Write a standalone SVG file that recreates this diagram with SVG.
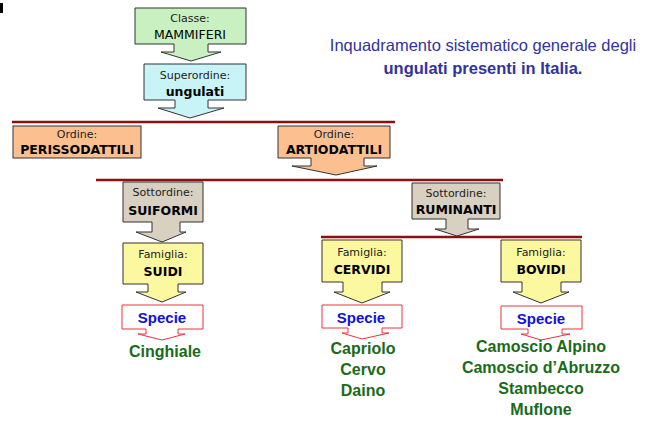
<svg xmlns="http://www.w3.org/2000/svg" width="665" height="425" viewBox="0 0 665 425">
<style>
.n{stroke:#333;stroke-width:1}
.s{font-family:"DejaVu Sans",sans-serif;font-size:11px;fill:#222;text-anchor:middle}
.b{font-family:"DejaVu Sans",sans-serif;font-size:12.5px;fill:#000;text-anchor:middle}
.sp{fill:#fff;stroke:#f03040;stroke-width:1}
.spt{font-family:"Liberation Sans",Arial,sans-serif;font-weight:bold;font-size:15px;fill:#1010e0;text-anchor:middle}
.g{font-family:"Liberation Sans",Arial,sans-serif;font-weight:bold;font-size:16px;fill:#1a6a1a;text-anchor:middle}
.t{font-family:"Liberation Sans",Arial,sans-serif;font-size:16.5px;fill:#333399;text-anchor:middle}
.rl{stroke:#8b1010;stroke-width:2.5}
</style>
<rect width="665" height="425" fill="#fff"/>
<rect x="0" y="3" width="3" height="10" fill="#000"/>
<g id="title"><text class="t" x="483" y="51">Inquadramento sistematico generale degli</text><text class="t" x="483" y="74" font-weight="bold">ungulati presenti in Italia.</text></g>
<g id="connectors">
<line class="rl" x1="12" y1="122" x2="395" y2="122"/>
<line class="rl" x1="96" y1="180" x2="503" y2="180"/>
<line class="rl" x1="321" y1="237" x2="582" y2="237"/>
</g>
<g id="classe"><path class="n" fill="#c8f0c0" d="M135 8H246V44H208V52H221L191 61L161 52H174V44H135Z"/><text class="s" x="190" y="22">Classe:</text><text class="b" x="190" y="39">MAMMIFERI</text></g>
<g id="superordine"><path class="n" fill="#c8f4f8" d="M144 64H246V100H208V108H224L190 118L158 108H175V100H144Z"/><text class="s" x="195" y="79">Superordine:</text><text class="b" x="195" y="96" font-weight="bold">ungulati</text></g>
<g id="perisso"><rect class="n" fill="#fcc090" x="13" y="126" width="128" height="32"/><text class="s" x="77" y="138">Ordine:</text><text class="b" x="77" y="154" font-weight="bold">PERISSODATTILI</text></g>
<g id="artio"><path class="n" fill="#fcc090" d="M278 126H390V158H364V166H377L336 175L292 166H311V158H278Z"/><text class="s" x="334" y="138">Ordine:</text><text class="b" x="334" y="154" font-weight="bold">ARTIODATTILI</text></g>
<g id="suiformi"><path class="n" fill="#d8d0c0" d="M123 182H203V222H180V232H186L162 242L136 232H152V222H123Z"/><text class="s" x="163" y="196">Sottordine:</text><text class="b" x="163" y="215" font-weight="bold">SUIFORMI</text></g>
<g id="ruminanti"><path class="n" fill="#d8d0c0" d="M412 183H500V219H468V229H479L457 236L435 229H446V219H412Z"/><text class="s" x="456" y="197">Sottordine:</text><text class="b" x="456" y="214" font-weight="bold">RUMINANTI</text></g>
<g id="suidi"><path class="n" fill="#fcf8a0" d="M123 243H203V284H178V292H186L162 302L136 292H148V284H123Z"/><text class="s" x="163" y="258">Famiglia:</text><text class="b" x="163" y="276" font-weight="bold">SUIDI</text></g>
<g id="cervidi"><path class="n" fill="#fcf8a0" d="M322 240H402V282H382V292H390L362 303L334 292H343V282H322Z"/><text class="s" x="362" y="256">Famiglia:</text><text class="b" x="362" y="274" font-weight="bold">CERVIDI</text></g>
<g id="bovidi"><path class="n" fill="#fcf8a0" d="M501 240H581V282H561V292H569L541 303L513 292H522V282H501Z"/><text class="s" x="541" y="256">Famiglia:</text><text class="b" x="541" y="274" font-weight="bold">BOVIDI</text></g>
<g id="specie1"><path class="sp" d="M122 305H203V329H178V334H185L162 340L138 334H146V329H122Z"/><text class="spt" x="162" y="323">Specie</text><text class="g" x="165" y="357">Cinghiale</text></g>
<g id="specie2"><path class="sp" d="M322 305H402V328H382V333H389L362 339L342 333H348V328H322Z"/><text class="spt" x="361" y="323">Specie</text><text class="g" x="363" y="354">Capriolo</text><text class="g" x="363" y="375">Cervo</text><text class="g" x="363" y="396">Daino</text></g>
<g id="specie3"><path class="sp" d="M501 306H582V329H562V334H570L541 340L521 334H528V329H501Z"/><text class="spt" x="541" y="324">Specie</text><text class="g" x="541" y="352">Camoscio Alpino</text><text class="g" x="541" y="373">Camoscio d’Abruzzo</text><text class="g" x="541" y="394">Stambecco</text><text class="g" x="541" y="415">Muflone</text></g>
</svg>
